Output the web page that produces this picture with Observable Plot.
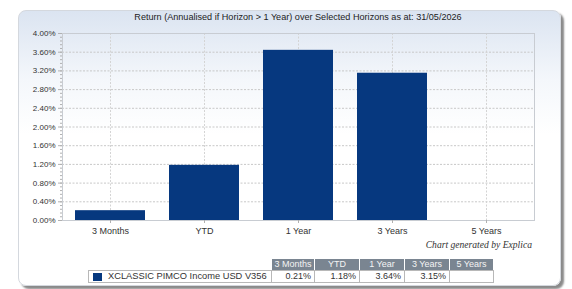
<!DOCTYPE html>
<html>
<head>
<meta charset="utf-8">
<script src="https://cdn.jsdelivr.net/npm/d3@7"></script>
<script src="https://cdn.jsdelivr.net/npm/@observablehq/plot@0.6"></script>
<style>
  html, body { margin: 0; padding: 0; background: #fff; }
  #wrap { position: relative; width: 572px; height: 289px; overflow: hidden; font-family: "Liberation Sans", Arial, sans-serif; }
  #card { position: absolute; left: 18px; top: 10px; width: 541px; height: 274px; border: 1px solid #d4d8de; border-radius: 8px;
          background: linear-gradient(#dbe4f1 0%, #f4f7fb 25%, #ffffff 45%); box-shadow: 3px 3px 2px #8a8a8a; }
  #chart { position: absolute; left: 0; top: 0; }
  #title { position: absolute; left: 62px; width: 472px; top: 12px; text-align: center; font-size: 9.1px; color: #222; white-space: nowrap; }
  #caption { position: absolute; right: 40px; top: 239px; font-family: "Liberation Serif", "Times New Roman", serif; font-style: italic; font-size: 9.6px; color: #333; }
  .cell { position: absolute; box-sizing: border-box; font-size: 9px; white-space: nowrap; line-height: 10px; }
  .hdr { background: #7a8591; color: #f4f4f4; text-align: center; border-right: 1px solid #fff; }
  .val { background: #fff; color: #333; text-align: right; padding-right: 3px; border: 1px solid #b8b8b8; border-left: none; line-height: 11px; }
  .leg { background: #fff; color: #333; border: 1px solid #b8b8b8; line-height: 11px; padding-left: 19px; font-size: 9.3px; }
  .sw { position: absolute; left: 4px; top: 2px; width: 9px; height: 8px; }
</style>
</head>
<body>
<div id="wrap">
  <div id="card"></div>
  <div id="chart"></div>
  <div id="title"></div>
  <div id="caption"></div>
  <div id="table"></div>
</div>
<script>
const titleText = "Return (Annualised if Horizon > 1 Year) over Selected Horizons as at: 31/05/2026";
const captionText = "Chart generated by Explica";
const horizons = ["3 Months", "YTD", "1 Year", "3 Years", "5 Years"];
const returns = [0.0021, 0.0118, 0.0364, 0.0315, null];
const seriesName = "XCLASSIC PIMCO Income USD V356";
const yTicks = [0, 0.004, 0.008, 0.012, 0.016, 0.020, 0.024, 0.028, 0.032, 0.036, 0.040];
const minorStep = 0.0008;
const minorTicks = d3.range(0, 51).map(i => +(i * minorStep).toFixed(5));
const barColor = "#06387f";

const data = horizons.map((h, i) => ({h, v: returns[i]}));
const fmt = d3.format(".2%");

document.getElementById("title").textContent = titleText;
document.getElementById("caption").textContent = captionText;

const chart = Plot.plot({
  width: 572,
  height: 289,
  marginLeft: 62,
  marginRight: 38,
  marginTop: 33,
  marginBottom: 69,
  style: {background: "transparent", fontFamily: "Liberation Sans, Arial, sans-serif", color: "#333"},
  x: {domain: horizons, paddingInner: 0.26, paddingOuter: 0.13},
  y: {domain: [0, 0.04]},
  marks: [
    Plot.gridY(yTicks, {stroke: "#c8c8c8", strokeOpacity: 1, strokeDasharray: "2,1.5"}),
    Plot.gridX({stroke: "#d4d4d4", strokeOpacity: 1, strokeDasharray: "2,1.5"}),
    Plot.barY(data.filter(d => d.v != null), {x: "h", y: "v", fill: barColor}),
    Plot.frame({stroke: "#c8ccd2"}),
    Plot.axisY(minorTicks, {tickSize: 2, tickFormat: () => "", stroke: "#b0b0b0", label: null}),
    Plot.axisY(yTicks, {tickSize: 4, tickPadding: 3, tickFormat: fmt, fontSize: 8, stroke: "#b0b0b0", fill: "#333", label: null}),
    Plot.axisX({tickSize: 3, tickPadding: 4, fontSize: 9, stroke: "#b0b0b0", fill: "#333", label: null})
  ]
});
document.getElementById("chart").appendChild(chart);

// table
const table = document.getElementById("table");
const colX = [272, 315, 360, 405, 450, 494];
const hdrTop = 259, hdrH = 11, rowTop = 270, rowH = 13;
function cell(cls, left, top, w, h, text) {
  const d = document.createElement("div");
  d.className = "cell " + cls;
  d.style.left = left + "px"; d.style.top = top + "px";
  d.style.width = w + "px"; d.style.height = h + "px";
  if (text != null) d.textContent = text;
  table.appendChild(d);
  return d;
}
horizons.forEach((h, i) => {
  cell("hdr", colX[i], hdrTop, colX[i + 1] - colX[i], hdrH, h);
  cell("val", colX[i], rowTop, colX[i + 1] - colX[i], rowH, returns[i] == null ? "" : fmt(returns[i]));
});
const leg = cell("leg", 88, rowTop, colX[0] - 88, rowH, seriesName);
const sw = document.createElement("div");
sw.className = "sw"; sw.style.background = barColor;
leg.appendChild(sw);
</script>
</body>
</html>
